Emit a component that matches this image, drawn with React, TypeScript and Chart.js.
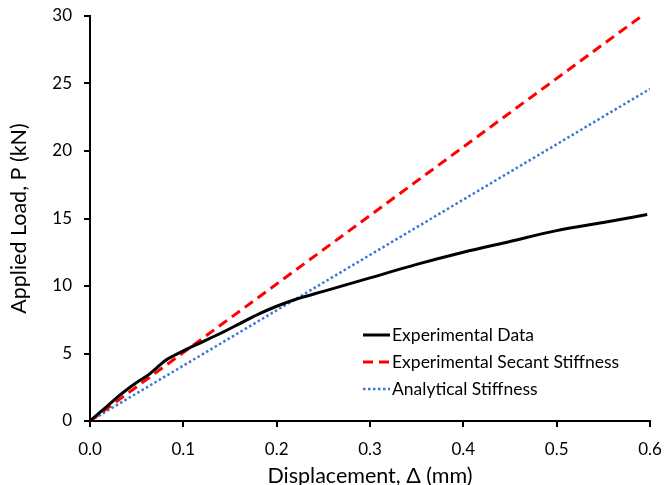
import React, { useEffect, useRef } from "react";
import { Chart, registerables } from "chart.js";

Chart.register(...registerables);

const expX = [0, 0.01, 0.02, 0.03, 0.04, 0.05, 0.06, 0.065, 0.07, 0.075, 0.08, 0.09, 0.1, 0.12, 0.14, 0.16, 0.18, 0.2, 0.22, 0.25, 0.3, 0.35, 0.4, 0.45, 0.5, 0.55, 0.597];
const expY = [0, 0.6, 1.2, 1.8, 2.35, 2.85, 3.3, 3.55, 3.85, 4.15, 4.45, 4.85, 5.2, 5.85, 6.5, 7.2, 7.9, 8.5, 9.0, 9.6, 10.6, 11.6, 12.5, 13.3, 14.1, 14.7, 15.3];
const secantX = [0, 0.6];
const secantY = [0, 30.45];
const analyticalX = [0, 0.6];
const analyticalY = [0, 24.6];
const xTicks = [0, 0.1, 0.2, 0.3, 0.4, 0.5, 0.6];
const yTicks = [0, 5, 10, 15, 20, 25, 30];
const labels = ["Experimental Data", "Experimental Secant Stiffness", "Analytical Stiffness"];

const FONT = "Lato, 'Open Sans', sans-serif";

const legendPlugin = {
  id: "customLegend",
  afterDraw(chart: any) {
    const ctx = chart.ctx;
    const x0 = 363;
    const x1 = 390;
    const tx = 392;
    const ys = [335, 362, 389];
    ctx.save();
    chart.data.datasets.forEach((ds: any, i: number) => {
      ctx.beginPath();
      ctx.strokeStyle = ds.borderColor;
      ctx.lineWidth = ds.borderWidth;
      ctx.setLineDash(ds.borderDash || []);
      ctx.lineCap = "butt";
      ctx.moveTo(x0, ys[i]);
      ctx.lineTo(x1, ys[i]);
      ctx.stroke();
      ctx.setLineDash([]);
      ctx.fillStyle = "#000";
      ctx.font = `17.5px ${FONT}`;
      ctx.textBaseline = "middle";
      ctx.textAlign = "left";
      ctx.fillText(ds.label, tx, ys[i]);
    });
    ctx.restore();
  },
};

export default function App() {
  const ref = useRef<HTMLCanvasElement>(null);
  useEffect(() => {
    document.body.style.margin = "0";
    const toPts = (xs: number[], ys: number[]) => xs.map((x, i) => ({ x, y: ys[i] }));
    const chart = new Chart(ref.current!, {
      type: "line",
      data: {
        datasets: [
          {
            label: labels[0],
            data: toPts(expX, expY),
            borderColor: "#000000",
            borderWidth: 3,
            pointRadius: 0,
            cubicInterpolationMode: "monotone",
          },
          {
            label: labels[1],
            data: toPts(secantX, secantY),
            borderColor: "#ff0000",
            borderWidth: 3,
            borderDash: [10, 6],
            pointRadius: 0,
          },
          {
            label: labels[2],
            data: toPts(analyticalX, analyticalY),
            borderColor: "#3a78d4",
            borderWidth: 2.5,
            borderDash: [2.5, 2.5],
            pointRadius: 0,
          },
        ],
      },
      options: {
        responsive: false,
        animation: false,
        layout: { padding: { top: 16, right: 16, left: 0, bottom: 0 } },
        plugins: { legend: { display: false }, tooltip: { enabled: false } },
        scales: {
          x: {
            type: "linear",
            min: 0,
            max: 0.6,
            afterFit: (s: any) => { s.height = 64; s.paddingLeft = 0; s.paddingRight = 0; },
            afterBuildTicks: (s: any) => { s.ticks = xTicks.map((v) => ({ value: v })); },
            ticks: {
              color: "#000",
              font: { family: FONT, size: 17 },
              padding: 12,
              callback: (v: any) => Number(v).toFixed(1),
            },
            grid: { drawOnChartArea: false, tickLength: 6, color: "#000", lineWidth: 2 },
            border: { display: true, color: "#000", width: 2 },
            title: {
              display: true,
              text: "Displacement, Δ (mm)",
              color: "#000",
              font: { family: FONT, size: 21.5 },
              padding: { top: 0, bottom: -4 },
            },
          },
          y: {
            type: "linear",
            min: 0,
            max: 30,
            afterFit: (s: any) => { s.width = 90; s.paddingTop = 0; s.paddingBottom = 0; },
            afterBuildTicks: (s: any) => { s.ticks = yTicks.map((v) => ({ value: v })); },
            ticks: {
              color: "#000",
              font: { family: FONT, size: 17 },
              padding: 12,
            },
            grid: { drawOnChartArea: false, tickLength: 6, color: "#000", lineWidth: 2 },
            border: { display: true, color: "#000", width: 2 },
            title: {
              display: true,
              text: "Applied Load, P (kN)",
              color: "#000",
              font: { family: FONT, size: 21.5 },
              padding: { top: 6, bottom: 0 },
            },
          },
        },
      },
      plugins: [legendPlugin],
    } as any);
    return () => chart.destroy();
  }, []);
  return <canvas ref={ref} width={666} height={485} style={{ display: "block" }} />;
}
